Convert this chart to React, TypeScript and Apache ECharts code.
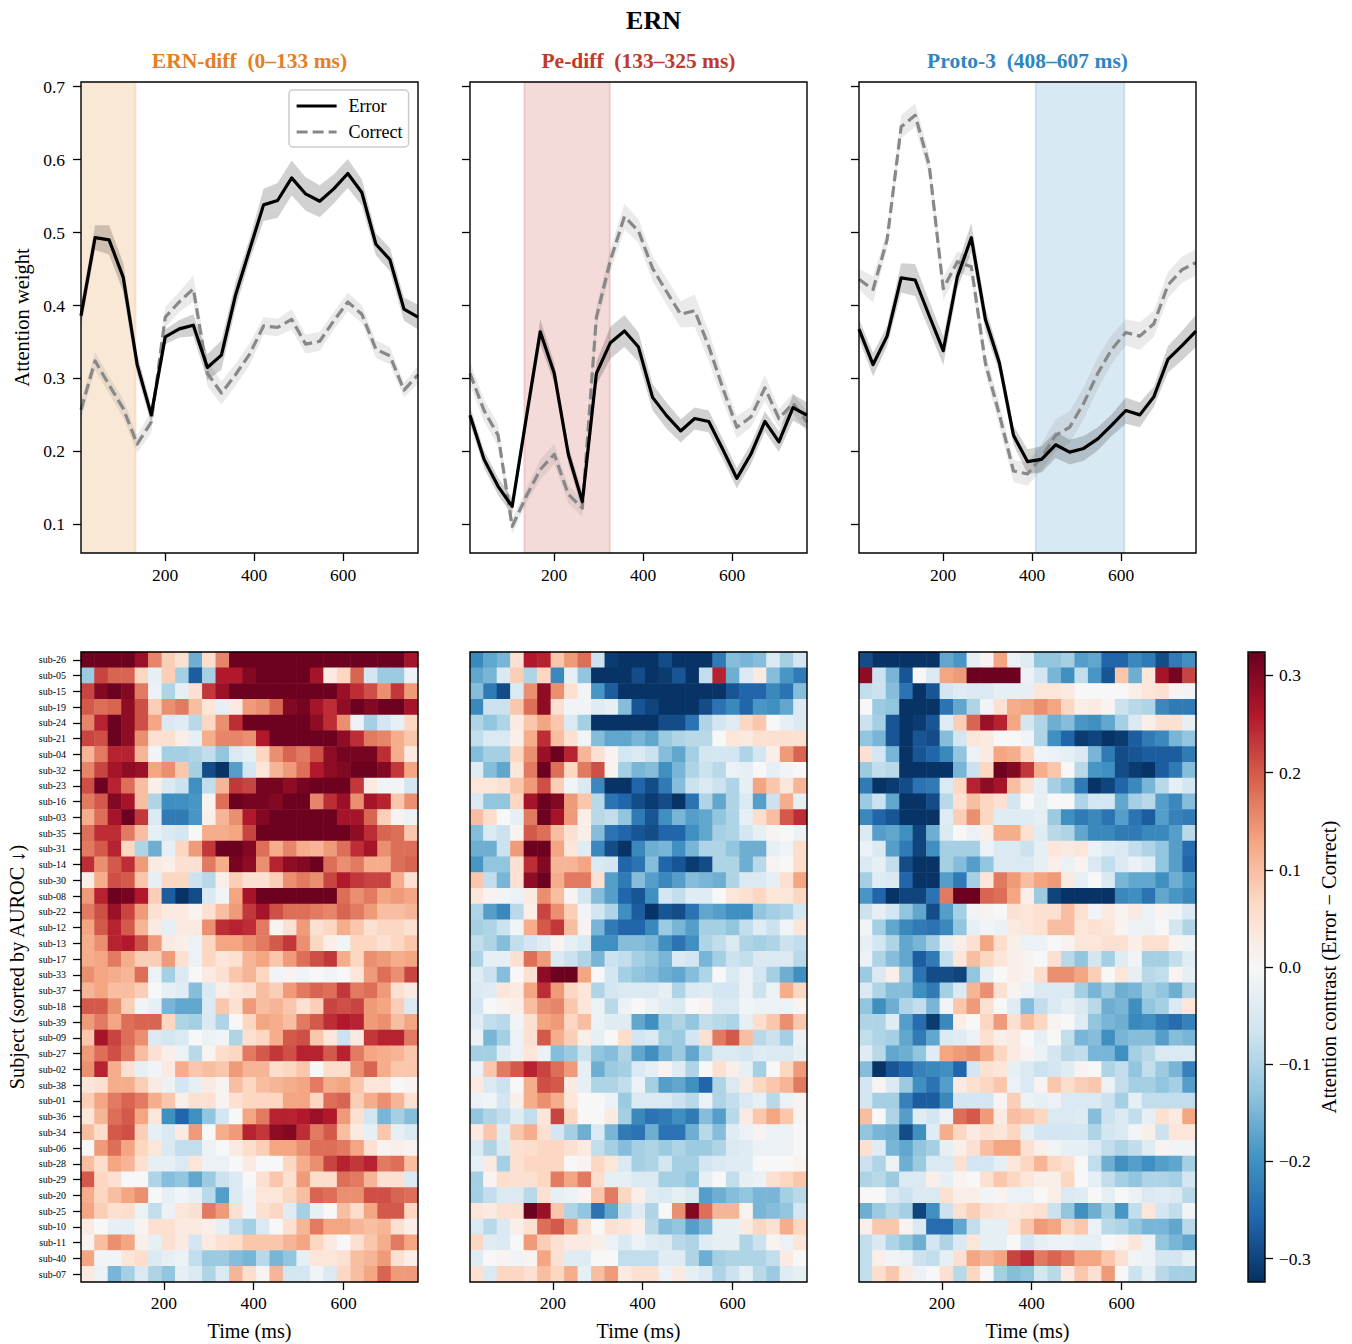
import React, { useEffect, useRef } from "react";
import * as echarts from "echarts";

const FONT = "Liberation Serif";
const lineTimes = [10.8,42.4,73.9,105.5,137,168.6,200.1,231.7,263.2,294.8,326.3,357.9,389.4,421,452.5,484.1,515.6,547.2,578.7,610.3,641.8,673.4,704.9,736.5,768];
const timeBins = ["1","2","3","4","5","6","7","8","9","10","11","12","13","14","15","16","17","18","19","20","21","22","23","24","25"];
const timeTicks = [200,400,600];
const weightTicks = [0.1,0.2,0.3,0.4,0.5,0.6,0.7];
const contrastTicks = [-0.3,-0.2,-0.1,0,0.1,0.2,0.3];
const rdbu = ["#053061","#2166ac","#4393c3","#92c5de","#d1e5f0","#f7f7f7","#fddbc7","#f4a582","#d6604d","#b2182b","#67001f"];

const subjects = ["sub-26","sub-05","sub-15","sub-19","sub-24","sub-21","sub-04","sub-32","sub-23","sub-16","sub-03","sub-35","sub-31","sub-14","sub-30","sub-08","sub-22","sub-12","sub-13","sub-17","sub-33","sub-37","sub-18","sub-39","sub-09","sub-27","sub-02","sub-38","sub-01","sub-36","sub-34","sub-06","sub-28","sub-29","sub-20","sub-25","sub-10","sub-11","sub-40","sub-07"];

const ernError = [.386,.493,.490,.439,.319,.250,.357,.368,.373,.315,.332,.414,.476,.538,.544,.575,.553,.543,.560,.581,.555,.484,.463,.395,.384];
const ernCorrect = [.257,.324,.291,.259,.210,.240,.384,.405,.423,.307,.280,.305,.333,.372,.370,.381,.347,.351,.379,.405,.388,.340,.331,.284,.305];
const ernErrorSem = [.015,.017,.02,.02,.015,.012,.01,.012,.015,.018,.02,.018,.015,.022,.024,.024,.023,.022,.02,.02,.018,.015,.016,.016,.017];
const ernCorrectSem = [.013,.012,.012,.013,.012,.015,.014,.014,.018,.017,.016,.015,.015,.012,.012,.014,.013,.013,.012,.013,.012,.012,.012,.01,.012];
const peError = [.2495,.189,.152,.1245,.245,.364,.307,.196,.131,.307,.349,.365,.343,.274,.249,.228,.245,.241,.203,.163,.196,.241,.213,.260,.2495];
const peCorrect = [.307,.256,.222,.097,.138,.175,.196,.141,.122,.384,.462,.522,.502,.451,.419,.388,.393,.344,.287,.233,.247,.287,.245,.266,.240];
const peErrorSem = [.012,.012,.012,.012,.012,.017,.014,.012,.012,.016,.022,.022,.02,.018,.018,.016,.015,.015,.014,.014,.014,.014,.014,.018,.018];
const peCorrectSem = [.016,.015,.015,.01,.01,.014,.014,.012,.012,.014,.016,.018,.016,.017,.018,.018,.022,.02,.018,.015,.014,.018,.013,.014,.014];
const protoError = [.3676,.319,.358,.438,.435,.386,.338,.439,.493,.381,.321,.222,.186,.189,.209,.199,.204,.217,.236,.256,.250,.275,.326,.345,.365];
const protoCorrect = [.436,.422,.490,.645,.661,.592,.423,.460,.453,.321,.250,.173,.169,.192,.222,.233,.266,.307,.340,.363,.358,.375,.428,.449,.459];
const protoErrorSem = [.014,.016,.014,.02,.022,.02,.02,.016,.02,.016,.013,.013,.017,.018,.018,.017,.017,.016,.015,.018,.017,.014,.018,.02,.022];
const protoCorrectSem = [.014,.018,.012,.016,.016,.015,.016,.014,.014,.014,.016,.015,.016,.018,.022,.022,.022,.022,.02,.018,.019,.018,.018,.018,.018];

// hundredths of attention contrast, one row per subject, one column per time bin
const ernHeat = [
[32,32,32,32,28,16,8,5,-16,6,16,32,32,32,32,32,32,32,32,32,32,32,32,32,27],
[-12,22,19,19,7,-3,8,-11,-27,-11,26,26,30,32,32,32,32,27,3,7,19,-6,-12,-12,-2],
[22,30,32,30,17,-2,-10,-3,5,23,28,32,32,32,32,32,32,32,32,28,24,21,15,23,14],
[20,18,19,29,21,8,15,17,10,4,-3,3,14,15,19,30,31,27,24,29,32,30,32,32,27],
[16,25,32,29,21,13,-5,-4,-9,7,15,24,32,32,32,32,32,29,24,15,-2,-11,-6,-3,7],
[22,21,32,29,15,5,5,2,-3,12,16,16,15,26,32,32,32,32,32,29,24,17,16,12,9],
[11,17,25,25,11,-1,-11,-11,-10,-8,-13,-5,-3,7,15,19,17,21,29,31,31,31,24,12,3],
[16,22,27,29,28,13,15,9,-11,-29,-32,-18,-6,4,11,14,18,26,29,30,32,32,30,23,13],
[21,32,25,18,10,2,-5,-7,-20,-8,11,23,22,31,31,29,31,32,32,32,23,3,-1,-1,-6],
[17,20,30,27,10,-10,-20,-20,-19,1,18,32,31,31,30,32,32,16,24,28,15,27,25,9,15],
[12,18,27,32,23,-5,-23,-23,-19,2,11,15,26,30,32,32,32,32,32,27,27,19,8,1,-2],
[18,24,24,17,10,-3,-5,-6,0,12,12,13,22,32,32,32,32,32,32,32,29,24,19,18,9],
[17,20,25,7,-10,-16,-3,7,14,23,32,32,30,18,12,16,12,11,14,18,24,27,15,18,18],
[24,15,20,24,14,3,2,5,5,17,12,31,29,15,25,29,30,32,18,15,17,12,12,18,19],
[2,12,21,20,9,-3,7,7,-7,-9,2,8,5,5,8,15,17,15,22,26,23,22,22,12,5],
[14,25,32,31,26,8,-27,-32,-29,-5,-1,13,27,32,32,32,32,32,32,18,15,17,13,14,13],
[17,21,28,22,14,5,3,3,1,5,10,14,23,27,21,18,18,17,16,19,17,14,10,10,11],
[13,20,25,20,11,3,-3,3,3,15,24,25,24,17,1,5,14,5,7,12,9,5,7,7,5],
[12,15,25,26,21,14,3,2,-2,7,13,13,15,17,20,23,15,7,2,-1,7,7,5,7,9],
[12,13,17,12,8,8,14,5,-2,7,4,5,11,13,9,14,18,21,23,12,7,15,14,12,13],
[15,13,12,11,18,-2,-11,-5,0,3,5,9,11,7,-1,1,-1,0,-1,0,4,14,18,15,22],
[11,13,10,10,8,0,-3,-4,-14,-5,2,4,5,10,8,14,17,19,18,23,17,18,14,5,3],
[20,20,15,8,-1,-3,-15,-17,-17,-5,9,5,14,10,11,9,5,8,22,21,22,14,13,8,-5],
[14,17,13,18,19,19,7,-10,-11,-5,-10,0,7,13,12,10,17,20,24,26,25,14,15,10,13],
[9,27,22,18,15,-5,-6,-5,0,-2,-1,-10,5,7,12,20,21,9,4,-7,3,23,25,25,17],
[14,18,21,17,10,5,2,-2,-9,1,6,7,17,20,23,21,25,25,20,25,17,13,12,11,9],
[15,25,12,5,-3,-1,3,12,9,10,9,14,11,11,6,7,9,0,6,6,15,19,12,9,9],
[4,5,12,12,8,3,-2,-6,-3,3,1,10,7,10,11,12,13,17,12,13,9,4,4,0,1],
[8,13,17,19,17,12,9,2,5,5,1,5,7,7,7,13,13,7,18,19,8,12,15,11,5],
[4,11,18,20,13,4,-20,-26,-20,-13,-6,0,13,17,25,25,26,28,26,14,5,-6,-15,-11,-14],
[10,6,20,21,8,-3,-5,3,14,0,12,14,25,23,29,30,24,17,20,10,3,-3,9,-3,-5],
[0,14,18,13,7,4,-5,-8,-8,-2,0,3,6,8,13,13,15,18,18,17,13,5,1,2,1],
[10,6,13,11,5,-3,-3,-5,4,-2,-2,0,3,0,0,7,12,15,22,25,23,25,17,18,10],
[20,7,5,0,0,-10,-14,-13,-17,-12,-7,-5,0,5,9,5,14,6,6,18,17,11,5,5,-5],
[12,7,10,13,15,0,-3,-1,-3,-9,-18,-5,-1,4,4,7,10,19,18,15,15,21,21,19,18],
[13,8,5,6,-2,-8,-2,4,5,17,14,5,-1,5,7,-4,-11,-3,0,10,6,13,20,20,7],
[3,0,-3,-3,1,5,5,3,3,2,-3,-8,-11,-5,0,5,11,17,13,13,11,10,11,5,2],
[1,10,15,13,2,-3,5,3,-6,3,5,6,9,9,9,11,13,7,3,0,5,9,12,17,13],
[13,-1,-1,4,6,-5,-3,-2,-8,-12,-12,-14,-15,-9,-15,-13,-3,4,4,5,10,11,14,5,2],
[3,-2,-15,-11,-5,-10,-13,-3,-5,-10,-5,11,6,1,11,-6,-6,-1,-5,7,10,13,19,14,14],
];
const peHeat = [
[-21,-17,-15,5,26,25,9,14,18,-7,-31,-32,-32,-32,-29,-32,-32,-32,-23,-14,-15,-14,-5,-11,-6],
[-17,-15,-5,8,-10,7,-21,-3,-13,-32,-32,-32,-29,-32,-31,-28,-32,-8,25,-16,-5,3,-14,-19,-23],
[-14,-23,-29,-5,15,29,15,5,-1,-19,-27,-32,-32,-32,-32,-32,-32,-32,-32,-28,-26,-26,-21,-24,-14],
[-21,-7,-7,9,18,29,5,-1,-1,-4,-3,-14,-28,-30,-32,-32,-32,-29,-24,-21,-26,-19,-20,-17,-5],
[-10,-13,-10,3,9,13,9,-5,-11,-32,-32,-32,-32,-32,-29,-29,-24,-10,-6,-4,7,9,0,-3,-5],
[-8,-5,-5,2,12,24,10,5,-1,-14,-17,-17,-15,-17,-12,-10,-9,-9,0,4,3,5,5,5,5],
[-14,-11,-11,7,15,28,32,25,11,5,1,-6,-5,-7,-14,-17,-11,-6,-6,-6,-10,-6,2,14,19],
[-4,-14,-17,4,17,32,18,7,17,21,1,-11,-15,-14,-20,-15,-10,-7,-9,-2,-3,0,-3,-1,0],
[4,4,5,9,14,21,8,-1,-5,-21,-32,-32,-26,-29,-23,-14,-7,-5,-7,-10,-3,13,9,4,11],
[-5,-13,-13,7,27,32,30,14,9,-9,-24,-26,-29,-31,-29,-32,-24,-10,-17,-10,-5,-18,-7,12,-3],
[10,6,0,-3,17,32,27,14,2,-9,-8,-13,-23,-28,-20,-15,-18,-17,-13,-10,-3,6,10,20,24],
[-14,-5,-7,1,20,18,10,5,2,-14,-24,-26,-28,-29,-26,-26,-20,-17,-11,-10,-6,-3,1,0,-2],
[-16,-16,-7,14,32,32,13,4,-4,-21,-29,-32,-21,-16,-15,-20,-15,-10,-10,-13,-16,-16,-3,-1,6],
[-19,-13,-13,5,24,30,11,11,13,-5,-6,-26,-24,-14,-26,-28,-31,-29,-10,-10,-16,-9,1,0,6],
[9,-8,-15,5,29,32,12,17,17,5,-18,-23,-14,-18,-21,-18,-14,-15,-16,-10,-5,-5,-3,5,13],
[4,1,-1,-2,3,15,10,1,-6,-14,-18,-26,-28,-20,-6,-8,-4,-4,0,4,5,7,4,4,7],
[-10,-18,-21,-9,2,22,15,8,-1,-6,-10,-20,-27,-32,-28,-29,-24,-17,-18,-20,-20,-13,-11,-10,-6],
[-11,-10,-7,-1,12,20,23,10,1,-15,-23,-26,-26,-21,-12,-15,-18,-11,-11,-13,-8,-4,-7,-1,4],
[-8,-10,-14,-8,-6,-4,1,-3,-5,-20,-20,-14,-14,-15,-20,-24,-20,-10,-8,-5,-10,-11,-10,-7,-8],
[-10,-3,-3,5,18,14,-5,-7,-10,-15,-7,-8,-11,-13,-15,-5,-6,-15,-11,-7,-8,-5,-5,-5,-9],
[-4,-7,-14,0,5,29,32,32,13,0,-6,-11,-13,-14,-16,-17,-14,-10,0,-5,-2,-6,-11,-16,-20],
[-5,-4,4,3,13,24,14,7,4,-10,-6,-5,-5,-5,-3,-10,-5,-4,-6,-6,-2,-7,-2,12,7],
[-6,0,1,2,10,15,16,9,4,-2,-9,-2,0,-2,-4,-5,0,1,-5,-5,-1,-2,-2,-2,1],
[-4,-8,-9,-1,5,13,14,7,10,-2,-4,-4,-17,-20,-12,-10,-13,-8,-9,-10,-3,6,9,15,9],
[-2,-15,-11,-2,5,20,12,8,2,-3,0,6,-6,-5,-11,-12,-6,5,17,20,10,-9,-7,-11,-2],
[-11,-11,-4,-2,4,-2,-14,-12,-7,-13,-14,-10,-17,-20,-15,-12,-17,-10,-5,-5,-6,-4,-5,-5,-3],
[-2,9,17,20,25,22,18,14,-3,-16,-12,-11,-5,-3,1,-4,-10,0,5,2,-3,-11,0,7,14],
[3,-5,-7,0,12,21,20,3,-3,-10,-10,-8,-2,-11,-18,-17,-20,-26,-10,-5,3,7,9,11,17],
[-2,-1,-6,2,12,15,12,4,0,0,-2,-12,-5,-5,-5,-7,-9,-2,-10,-8,-5,-3,-9,-2,1],
[-13,-10,-8,-4,-8,4,22,7,0,0,3,-11,-21,-24,-23,-20,-23,-14,-18,-9,3,9,13,9,1],
[3,9,-4,9,12,5,-6,-11,-16,-5,-15,-23,-24,-16,-24,-24,-16,-9,-14,-4,-2,1,-2,-2,0],
[-5,-10,-5,5,6,7,7,5,3,-8,-11,-14,-11,-10,-12,-10,-12,-12,-10,-5,-4,-2,-2,-2,0],
[-3,3,-11,5,7,7,7,0,1,7,4,-5,-11,-10,-6,-11,-11,-6,-5,-4,-4,0,0,0,1],
[-11,1,6,5,5,7,17,13,17,6,-3,-3,-5,-5,-11,-11,-13,-3,0,-8,-3,-2,5,7,9],
[-11,-8,-5,-5,-9,5,-3,-2,1,9,17,7,2,-4,-5,-3,-5,-18,-16,-14,-13,-15,-15,-11,-9],
[4,3,5,5,32,28,9,-10,-13,-24,-17,-8,-4,-10,0,15,30,18,11,11,1,-15,-14,-13,-6],
[-5,-9,-5,2,5,18,20,14,5,0,5,4,2,-9,-14,-13,-18,-15,-3,-3,3,7,5,12,7],
[7,-4,-5,0,14,8,5,3,3,2,-2,-5,-2,-4,-5,-9,-10,-4,-3,-3,-10,-7,1,-2,4],
[-4,0,1,-1,1,13,5,-4,-4,0,0,-8,-8,-8,-4,-4,-10,-16,-11,-10,-10,-10,-8,3,0],
[5,-5,7,7,5,10,7,12,-3,10,14,3,5,5,-2,3,-3,-5,-10,-7,-3,-9,-12,-4,-3],
];
const protoHeat = [
[-29,-32,-32,-32,-32,-32,-17,-19,-3,1,13,-2,-4,-13,-13,-11,-18,-17,-26,-26,-21,-23,-29,-23,-20],
[29,-7,-15,-28,0,-5,13,14,32,32,32,32,-2,-6,-15,-20,-8,-19,-28,9,-16,4,27,31,22],
[-8,-7,-14,-24,-32,-28,-6,-4,-5,-5,-3,-3,-3,4,4,3,0,0,0,0,2,4,5,1,-1],
[0,-12,-13,-32,-32,-32,-24,-17,-10,-1,5,12,13,15,13,7,2,3,1,-7,-9,-10,-21,-23,-23],
[-7,-11,-28,-32,-31,-28,-4,8,19,28,25,13,-6,-10,-16,-14,-19,-20,-17,-11,-5,2,5,5,-3],
[-13,-15,-28,-32,-28,-29,-14,-6,4,3,0,0,-1,-10,-20,-26,-31,-30,-32,-31,-27,-23,-21,-15,-13],
[5,-6,-15,-32,-28,-26,-21,-13,-2,3,13,12,7,-1,-2,-3,-5,-15,-23,-29,-28,-27,-27,-27,-23],
[-12,-8,-9,-32,-32,-32,-32,-15,-7,7,32,30,23,12,9,0,-9,-19,-20,-29,-31,-32,-27,-23,-14],
[-23,-32,-31,-29,-24,-23,-5,7,25,29,27,10,5,-3,-11,-14,-23,-32,-30,-26,-21,-15,-9,-3,-6],
[-12,-7,-17,-32,-32,-29,-9,5,10,7,5,-6,0,-3,0,0,-10,-6,-6,-17,-11,-9,-18,-21,-14],
[-21,-26,-28,-32,-32,-32,-4,8,15,7,-4,-4,-4,-3,-12,-20,-23,-21,-24,-18,-24,-27,-18,-22,-23],
[-5,-18,-17,-20,-30,-16,-5,0,-2,2,12,12,5,-4,-9,-10,-17,-21,-21,-23,-23,-21,-21,-18,-9],
[-2,-5,-18,-23,-30,-20,-11,-11,-11,-2,-5,-5,-7,-3,4,3,4,-2,-4,-5,-8,-10,-13,-18,-25],
[-5,-3,-8,-29,-32,-32,-11,-14,-18,-13,-5,-5,-5,-3,2,-2,1,-5,-8,-5,-2,-4,-13,-18,-26],
[-11,-4,-5,-26,-32,-32,-18,-23,-11,4,17,14,10,13,14,3,-3,0,-5,-15,-17,-17,-20,-16,-19],
[-19,-26,-32,-30,-30,-24,17,32,32,19,18,13,2,-12,-30,-32,-32,-32,-32,-21,-20,-24,-17,-19,-21],
[-7,-3,-6,-13,-17,-29,-18,-11,-1,1,0,5,4,5,5,10,5,-1,3,1,3,-2,1,-1,-5],
[-1,-11,-17,-21,-23,-24,-21,-13,-3,-1,-2,3,4,5,10,10,4,5,4,1,-2,-2,0,-6,-10],
[-3,-6,-10,-17,-15,-11,-3,2,5,13,6,2,-2,-2,0,1,4,4,5,5,2,5,5,1,-1],
[-2,-10,-14,-17,-27,-23,-8,4,10,7,4,2,1,0,5,-9,-13,-6,-11,-4,-1,-11,-11,-8,-4],
[-12,-5,2,-12,-24,-29,-29,-30,-13,-3,0,2,1,6,15,15,13,8,0,4,-3,-9,-8,1,-3],
[-5,-10,-14,-14,-20,-23,-11,-5,11,15,5,1,-2,-5,-5,-5,-11,-15,-12,-16,-15,-11,-13,-16,-10],
[-13,-20,-16,-10,-8,-15,-1,9,14,5,0,-4,-14,-8,-5,-3,-5,-9,-16,-15,-20,-13,-11,-5,4],
[-10,-10,-4,-18,-25,-31,-21,2,0,7,14,5,10,7,1,0,-4,-13,-15,-16,-21,-20,-23,-25,-22],
[-8,-10,-11,-17,-23,-17,-5,-4,-2,5,2,3,0,-3,0,-8,-15,-14,-20,-15,-14,-14,-18,-14,-15],
[-4,-9,-17,-16,-13,-4,13,14,15,12,7,3,1,-2,-6,-9,-8,-15,-15,-20,-11,-9,-5,-5,-5],
[-14,-32,-28,-26,-22,-21,-20,-26,-6,5,4,-3,-5,-7,-6,-4,1,0,-10,-8,-13,-8,-12,-15,-22],
[-6,1,-5,-12,-20,-24,-18,3,5,7,9,-2,-5,1,9,6,8,9,-2,-8,-11,-11,-13,-11,-18],
[-6,-11,-11,-22,-27,-27,-21,-6,-6,-6,1,8,-2,-3,-2,-5,-5,-5,-7,-11,-3,-8,-8,-8,-8],
[10,0,-10,-18,-4,-6,-2,18,20,14,3,10,9,7,-5,-5,-4,-14,-7,-5,-8,-3,5,3,13],
[-13,-15,-16,-29,-20,-4,12,7,3,5,4,7,-3,-6,-6,-6,-6,-10,-6,-5,-1,2,-7,4,4],
[5,-4,-15,-17,-13,-11,-3,2,5,10,13,13,5,2,-1,-3,-3,-5,-8,-10,-8,-4,1,-1,-1],
[-7,-10,-2,-16,-12,-5,-5,5,-6,-6,-3,4,7,11,7,5,0,-8,-16,-20,-18,-20,-18,-17,-11],
[-10,-9,-12,-5,-5,2,-3,1,0,5,9,7,4,2,2,7,0,-3,-8,-11,-13,-10,-10,-11,-6],
[0,0,-5,-7,-5,-5,5,2,2,-1,1,-2,-2,0,2,-5,-4,0,-3,0,-2,-5,-4,-5,-9],
[-16,-12,-9,-11,-30,-20,-7,5,8,5,4,3,4,5,-7,-13,-20,-16,-11,-19,-8,4,-6,-8,-1],
[2,9,9,1,-5,-25,-25,-17,-8,-3,-3,4,9,14,13,7,9,-2,-9,-10,-13,-15,-15,-17,-9],
[-8,-5,-10,-13,-16,-6,-10,-5,4,-3,-3,0,-6,-3,-2,-2,-3,-3,0,1,4,-2,-13,-15,-17],
[-8,2,-1,-2,-7,-8,-3,5,13,11,13,22,24,17,19,17,13,13,9,5,-1,-2,-6,-6,-3],
[-8,6,9,3,-2,0,5,-9,7,0,-11,-14,-13,-6,-9,3,9,5,14,0,-7,-3,-9,-11,-11],
];

const panels = [
  { title: "ERN-diff  (0–133 ms)", color: "#e67e22", span: [0, 133], error: ernError, correct: ernCorrect, errorSem: ernErrorSem, correctSem: ernCorrectSem, heat: ernHeat },
  { title: "Pe-diff  (133–325 ms)", color: "#c0392b", span: [133, 325], error: peError, correct: peCorrect, errorSem: peErrorSem, correctSem: peCorrectSem, heat: peHeat },
  { title: "Proto-3  (408–607 ms)", color: "#2e86c1", span: [408, 607], error: protoError, correct: protoCorrect, errorSem: protoErrorSem, correctSem: protoCorrectSem, heat: protoHeat },
];

const lefts = [81, 470, 859];
const W = 337;
const TOP_Y = 82, TOP_H = 471, HEAT_Y = 652, HEAT_H = 630;
const XMIN = 10.8, XMAX = 768;
const HXMIN = 15.6, HXMAX = 765.6;
const YMIN = 0.0606, YMAX = 0.7065;
const CMAX = 0.324;

const tickStyle = { show: true, length: 8, lineStyle: { color: "#000", width: 1.3 } };

function App() {
  const ref = useRef<HTMLDivElement>(null);
  useEffect(() => {
    const chart = echarts.init(ref.current!, undefined, { renderer: "svg" });
    const grid: any[] = [];
    const xAxis: any[] = [];
    const yAxis: any[] = [];
    const series: any[] = [];
    const graphic: any[] = [];
    const title: any[] = [
      { text: "ERN", left: 653.5, top: 7, padding: 0, textAlign: "center", textStyle: { fontFamily: FONT, fontSize: 26, fontWeight: "bold", color: "#000" } },
    ];
    const frame = (x: number, y: number, w: number, h: number) => ({
      type: "rect", silent: true, z: 100, shape: { x, y, width: w, height: h },
      style: { fill: "none", stroke: "#000", lineWidth: 1.4 },
    });
    const timeAxis = (gridIndex: number, min: number, max: number, margin: number, name?: string) => ({
      type: "value", gridIndex, min, max, position: "bottom",
      splitLine: { show: false }, axisLine: { show: false, onZero: false },
      axisTick: { ...tickStyle, customValues: timeTicks },
      axisLabel: { show: true, customValues: timeTicks, margin, fontFamily: FONT, fontSize: 17.5, color: "#000" },
      name, nameLocation: "middle", nameGap: 39,
      nameTextStyle: { fontFamily: FONT, fontSize: 20.2, color: "#000" },
    });

    // top row: attention weight time courses
    panels.forEach((p, i) => {
      grid.push({ left: lefts[i], top: TOP_Y, width: W, height: TOP_H, containLabel: false });
      xAxis.push(timeAxis(i, XMIN, XMAX, 13));
      yAxis.push({
        type: "value", gridIndex: i, min: YMIN, max: YMAX,
        splitLine: { show: false }, axisLine: { show: false, onZero: false },
        axisTick: { ...tickStyle, customValues: weightTicks },
        axisLabel: { show: i === 0, customValues: weightTicks, margin: 16, fontFamily: FONT, fontSize: 17.5, color: "#000", formatter: (v: number) => v.toFixed(1) },
        name: i === 0 ? "Attention weight" : undefined, nameLocation: "middle", nameRotate: 90, nameGap: 49,
        nameTextStyle: { fontFamily: FONT, fontSize: 20.5, color: "#000" },
      });
      title.push({
        text: p.title, left: lefts[i] + W / 2, top: 50, padding: 0, textAlign: "center",
        textStyle: { fontFamily: FONT, fontSize: 21.5, fontWeight: "bold", color: p.color },
      });
      graphic.push(frame(lefts[i], TOP_Y, W, TOP_H));

      series.push({
        type: "custom", xAxisIndex: i, yAxisIndex: i, silent: true, z: 1, data: [p.span],
        renderItem: (_: any, api: any) => {
          const a = api.coord([Math.max(p.span[0], XMIN), YMAX]);
          const b = api.coord([p.span[1], YMIN]);
          const c = echarts.color.modifyAlpha(p.color, 0.18);
          return {
            type: "group",
            children: [
              { type: "rect", shape: { x: a[0], y: a[1], width: b[0] - a[0], height: b[1] - a[1] }, style: { fill: c } },
              { type: "line", shape: { x1: b[0], y1: a[1], x2: b[0], y2: b[1] }, style: { stroke: c, lineWidth: 2 } },
              ...(p.span[0] > XMIN ? [{ type: "line", shape: { x1: a[0], y1: a[1], x2: a[0], y2: b[1] }, style: { stroke: c, lineWidth: 2 } }] : []),
            ],
          };
        },
      });
      const band = (mean: number[], sem: number[], fill: string, z: number) => ({
        type: "custom", xAxisIndex: i, yAxisIndex: i, silent: true, z, data: [0],
        renderItem: (_: any, api: any) => {
          const up = lineTimes.map((t, k) => api.coord([t, mean[k] + sem[k]]));
          const dn = lineTimes.map((t, k) => api.coord([t, mean[k] - sem[k]])).reverse();
          return { type: "polygon", shape: { points: [...up, ...dn] }, style: { fill } };
        },
      });
      series.push(band(p.correct, p.correctSem, "rgba(136,136,136,0.18)", 2));
      series.push(band(p.error, p.errorSem, "rgba(0,0,0,0.18)", 2));
      series.push({
        type: "line", name: "Correct", xAxisIndex: i, yAxisIndex: i, z: 3, symbol: "none", silent: true,
        data: lineTimes.map((t, k) => [t, p.correct[k]]),
        lineStyle: { color: "#888", width: 3.2, type: [11, 5], join: "round" }, itemStyle: { color: "#888" },
      });
      series.push({
        type: "line", name: "Error", xAxisIndex: i, yAxisIndex: i, z: 4, symbol: "none", silent: true,
        data: lineTimes.map((t, k) => [t, p.error[k]]),
        lineStyle: { color: "#000", width: 3.2, join: "round" }, itemStyle: { color: "#000" },
      });
    });

    // bottom row: subject-by-time contrast heat maps
    panels.forEach((p, i) => {
      const g = 3 + i;
      grid.push({ left: lefts[i], top: HEAT_Y, width: W, height: HEAT_H });
      xAxis.push({ type: "category", gridIndex: g, data: timeBins, show: false });
      yAxis.push({
        type: "category", gridIndex: g, data: subjects, inverse: true,
        splitLine: { show: false }, axisLine: { show: false },
        axisTick: { show: i === 0, interval: 0, alignWithLabel: true, length: 8, lineStyle: { color: "#000", width: 1.3 } },
        axisLabel: { show: i === 0, interval: 0, margin: 15, padding: [2, 0, 0, 0], fontFamily: FONT, fontSize: 10, color: "#000" },
        name: i === 0 ? "Subject (sorted by AUROC ↓)" : undefined, nameLocation: "middle", nameRotate: 90, nameGap: 54,
        nameTextStyle: { fontFamily: FONT, fontSize: 20.3, color: "#000" },
      });
      const cells: number[][] = [];
      p.heat.forEach((row, r) => row.forEach((v, c) => cells.push([c, r, v / 100])));
      series.push({ type: "heatmap", xAxisIndex: 3 + i, yAxisIndex: g, data: cells, silent: true, progressive: 0, z: 2 });
      graphic.push(frame(lefts[i], HEAT_Y, W, HEAT_H));
    });
    const heatSeriesIndex = series.map((s, k) => (s.type === "heatmap" ? k : -1)).filter((k) => k >= 0);
    panels.forEach((_, i) => xAxis.push(timeAxis(3 + i, HXMIN, HXMAX, 12, "Time (ms)")));

    // colour bar
    grid.push({ left: 1248, top: HEAT_Y, width: 17, height: HEAT_H });
    xAxis.push({ type: "value", gridIndex: 6, show: false, min: 0, max: 1 });
    yAxis.push({
      type: "value", gridIndex: 6, position: "right", min: -CMAX, max: CMAX,
      splitLine: { show: false }, axisLine: { show: false, onZero: false },
      axisTick: { ...tickStyle, customValues: contrastTicks },
      axisLabel: {
        customValues: contrastTicks, margin: 14, fontFamily: FONT, fontSize: 17.5, color: "#000",
        formatter: (v: number) => v.toFixed(1).replace("-", "−"),
      },
      name: "Attention contrast (Error − Correct)", nameLocation: "middle", nameRotate: 90, nameGap: 53,
      nameTextStyle: { fontFamily: FONT, fontSize: 20.5, color: "#000" },
    });
    graphic.push(frame(1248, HEAT_Y, 17, HEAT_H));

    chart.setOption({
      animation: false,
      backgroundColor: "#fff",
      title, grid, xAxis, yAxis, series, graphic,
      legend: {
        data: ["Error", "Correct"], left: 289, top: 90, orient: "vertical", selectedMode: false,
        itemWidth: 40, itemHeight: 14, itemGap: 8, padding: [7, 6, 6, 6],
        borderColor: "#ccc", borderWidth: 1.5, borderRadius: 4, backgroundColor: "rgba(255,255,255,0.85)",
        itemStyle: { opacity: 0 },
        lineStyle: { width: 3.2 },
        textStyle: { fontFamily: FONT, fontSize: 18, color: "#000", padding: [0, 0, 0, 7] },
      },
      visualMap: {
        type: "continuous", seriesIndex: heatSeriesIndex, min: -CMAX, max: CMAX, calculable: false,
        left: 1248, top: HEAT_Y, itemWidth: 17, itemHeight: HEAT_H, padding: 0, orient: "vertical",
        inRange: { color: rdbu },
      },
    });
    return () => chart.dispose();
  }, []);
  return <div ref={ref} style={{ position: "absolute", left: 0, top: 0, width: 1352, height: 1344 }} />;
}

export default App;
